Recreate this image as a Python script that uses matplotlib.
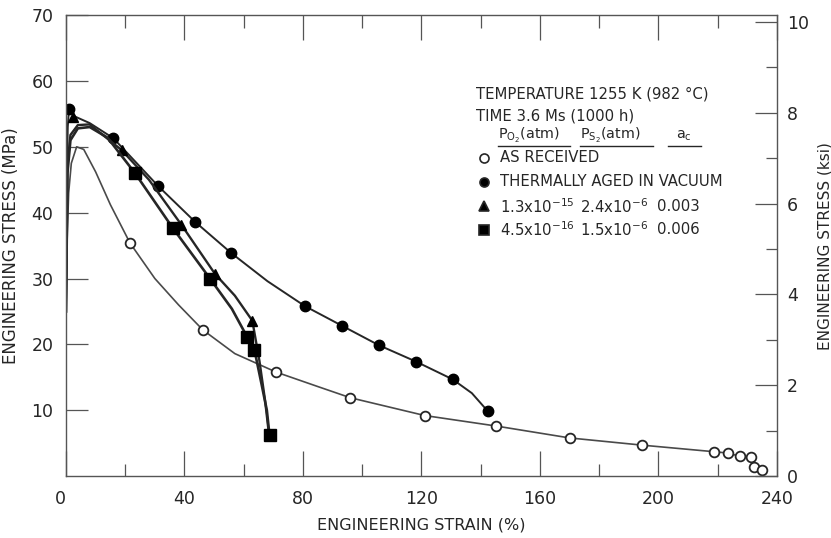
import matplotlib
matplotlib.use("Agg")
import matplotlib.pyplot as plt
from matplotlib.ticker import MultipleLocator

plt.rcParams['font.family'] = ['DejaVu Sans']
plt.rcParams['mathtext.default'] = 'regular'

INK = '#262626'
MPA_PER_KSI = 6.895

# ---- as received (open circles) ----
recv_line_x = [0, 0.4, 0.9, 1.8, 3.6, 6, 10, 15, 21.6, 30, 38, 46.2, 57, 70.9, 85, 96.0,
               121.1, 145.3, 170, 194.6, 218.9, 223.5, 227.5, 231.3, 232.4, 235]
recv_line_y = [25, 36, 43, 47.5, 50.0, 49.6, 46.2, 41.2, 35.4, 30.0, 26.0, 22.2, 18.6, 15.8, 13.6, 11.9,
               9.2, 7.6, 5.8, 4.7, 3.7, 3.5, 3.0, 2.9, 1.4, 1.0]
recv_pts_x = [21.6, 46.2, 70.9, 96.0, 121.1, 145.3, 170, 194.6, 218.9, 223.5, 227.5, 231.3, 232.4, 235]
recv_pts_y = [35.4, 22.2, 15.8, 11.9, 9.2, 7.6, 5.8, 4.7, 3.7, 3.5, 3.0, 2.9, 1.4, 1.0]

# ---- thermally aged in vacuum (filled circles) ----
vac_line_x = [0, 0.3, 0.6, 1.0, 3, 8, 16, 31.2, 43.6, 55.7, 68, 80.7, 93.3, 105.5, 118.1, 130.5, 137, 142.3]
vac_line_y = [25, 45, 53, 55.7, 54.6, 53.6, 51.3, 44.0, 38.6, 33.9, 29.6, 25.8, 22.8, 19.9, 17.4, 14.7, 12.6, 9.9]
vac_pts_x = [1.0, 16, 31.2, 43.6, 55.7, 80.7, 93.3, 105.5, 118.1, 130.5, 142.3]
vac_pts_y = [55.7, 51.3, 44.0, 38.6, 33.9, 25.8, 22.8, 19.9, 17.4, 14.7, 9.9]

# ---- Po2 1.3e-15 atm (triangles) ----
tri_line_x = [0, 0.5, 1.5, 4, 8, 18.8, 28, 38.9, 50.3, 57, 62.9, 65.3, 67.2, 68.4]
tri_line_y = [25, 47, 51.8, 53.3, 53.4, 49.5, 45.0, 38.2, 30.7, 27.4, 23.6, 17.5, 11.5, 6.8]
tri_pts_x = [2.5, 18.8, 38.9, 50.3, 62.9]
tri_pts_y = [54.5, 49.5, 38.2, 30.7, 23.6]

# ---- Po2 4.5e-16 atm (squares) ----
sq_line_x = [0, 0.5, 1.5, 4, 8, 14, 23.3, 36.0, 48.6, 56, 61.2, 63.6, 66, 67.8, 68.7]
sq_line_y = [25, 46, 51, 52.8, 53.0, 51.4, 46.0, 37.7, 30.0, 25.4, 21.1, 19.2, 14.0, 10.0, 6.2]
sq_pts_x = [23.3, 36.0, 48.6, 61.2, 63.6, 68.7]
sq_pts_y = [46.0, 37.7, 30.0, 21.1, 19.2, 6.2]

strain_ticks = [0, 40, 80, 120, 160, 200, 240]
stress_ticks = [10, 20, 30, 40, 50, 60, 70]

fig = plt.figure(figsize=(8.31, 5.38), dpi=100)
ax = fig.add_axes([0.0794, 0.115, 0.8556, 0.857])

ax.plot(recv_line_x, recv_line_y, color='#4a4a4a', lw=1.2)
ax.plot(recv_pts_x, recv_pts_y, 'o', ms=7, mfc='white', mec=INK, mew=1.3, ls='none')

ax.plot(vac_line_x, vac_line_y, color=INK, lw=1.4)
ax.plot(vac_pts_x, vac_pts_y, 'o', ms=7.5, color='black', ls='none')

ax.plot(tri_line_x, tri_line_y, color=INK, lw=1.7)
ax.plot(tri_pts_x, tri_pts_y, '^', ms=7.5, color='black', ls='none')

ax.plot(sq_line_x, sq_line_y, color=INK, lw=1.9)
ax.plot(sq_pts_x, sq_pts_y, 's', ms=8, color='black', ls='none')

ax.set_xlim(0, 240)
ax.set_ylim(0, 70)
ax.set_xticks(strain_ticks)
ax.xaxis.set_minor_locator(MultipleLocator(20))
ax.set_yticks(stress_ticks)
ax.tick_params(axis='x', which='major', direction='in', length=18, width=0.9, color='#555',
               top=True, labelsize=12.5, pad=10, labelcolor=INK)
ax.tick_params(axis='x', which='minor', direction='in', length=9, width=0.9, color='#555', top=True)
ax.tick_params(axis='y', which='major', direction='in', length=16, width=0.9, color='#555',
               labelsize=12.5, pad=9, labelcolor=INK)
for s in ax.spines.values():
    s.set_color('#555')
    s.set_linewidth(1.0)

# the zero at the corner sits just left of the spine
ax.xaxis.get_major_ticks()[0].label1.set_horizontalalignment('right')

ax.set_xlabel('ENGINEERING STRAIN (%)', fontsize=11.5, color=INK, labelpad=7)
ax.set_ylabel('ENGINEERING STRESS (MPa)', fontsize=12, color=INK, labelpad=8)

# ksi scale on the right
ax2 = ax.twinx()
ax2.set_ylim(0, 70 / MPA_PER_KSI)
ax2.yaxis.set_major_locator(MultipleLocator(2))
ax2.yaxis.set_minor_locator(MultipleLocator(1))
ax2.tick_params(axis='y', which='major', direction='in', length=16, width=0.9, color='#555',
                labelsize=12.5, pad=7, labelcolor=INK)
ax2.tick_params(axis='y', which='minor', direction='in', length=8, width=0.9, color='#555')
ax2.set_ylabel('ENGINEERING STRESS (ksi)', fontsize=11, color=INK, labelpad=6)
for s in ax2.spines.values():
    s.set_visible(False)

# key block
tr = ax.transAxes
fs = 10.7
ax.text(0.577, 0.829, 'TEMPERATURE 1255 K (982 °C)', transform=tr, fontsize=fs, color=INK, va='center')
ax.text(0.577, 0.782, 'TIME 3.6 Ms (1000 h)', transform=tr, fontsize=fs, color=INK, va='center')

head_y = 0.738
ax.text(0.607, head_y, 'P$_{O_2}$(atm)', transform=tr, fontsize=10.3, color=INK, va='center')
ax.text(0.723, head_y, 'P$_{S_2}$(atm)', transform=tr, fontsize=10.3, color=INK, va='center')
ax.text(0.869, head_y, 'a$_c$', transform=tr, fontsize=10.3, color=INK, va='center', ha='center')
for x0, x1 in [(0.607, 0.709), (0.723, 0.826), (0.847, 0.893)]:
    ax.plot([x0, x1], [0.716, 0.716], transform=tr, color=INK, lw=1.0, clip_on=False)

key_marks = [('o', 'white'), ('o', 'black'), ('^', 'black'), ('s', 'black')]
key_rows = [0.690, 0.638, 0.585, 0.534]
key_text = [['AS RECEIVED'],
            ['THERMALLY AGED IN VACUUM'],
            ['1.3x10$^{-15}$', '2.4x10$^{-6}$', '0.003'],
            ['4.5x10$^{-16}$', '1.5x10$^{-6}$', '0.006']]
col_x = [0.610, 0.723, 0.831]
for (m, fc), yy, texts in zip(key_marks, key_rows, key_text):
    ax.plot([0.588], [yy], m, transform=tr, ms=6.5, mfc=fc, mec=INK, mew=1.2)
    for cx, t in zip(col_x, texts):
        ax.text(cx, yy, t, transform=tr, fontsize=fs, color=INK, va='center')

fig.savefig('out.png', dpi=100, facecolor='white')
